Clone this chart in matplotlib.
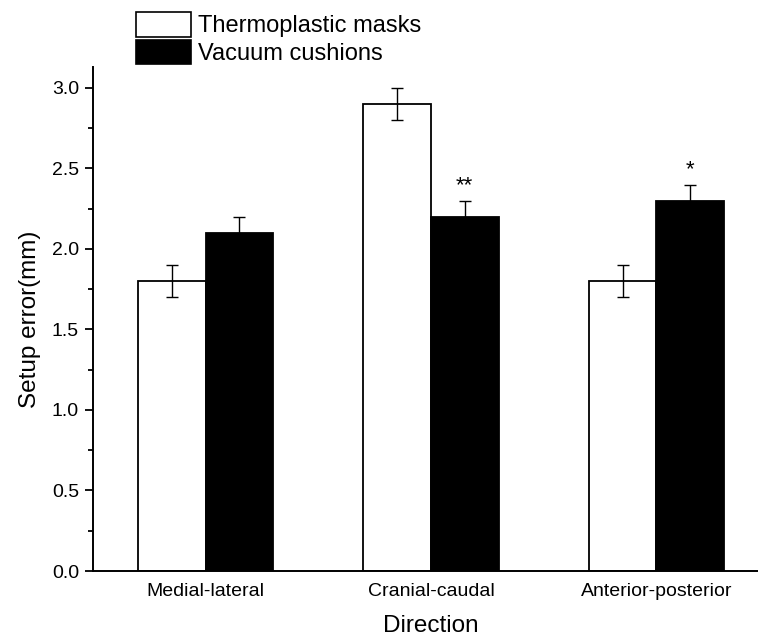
import numpy as np
import matplotlib.pyplot as plt
from matplotlib.patches import Patch
from matplotlib.ticker import MultipleLocator

plt.rcParams['font.family'] = ['Liberation Sans', 'DejaVu Sans']

directions = ["Medial-lateral", "Cranial-caudal", "Anterior-posterior"]
thermo = [1.8, 2.9, 1.8]
thermo_err = [0.1, 0.1, 0.1]
vacuum = [2.1, 2.2, 2.3]
vacuum_err = [0.1, 0.1, 0.1]
stars = ["", "**", "*"]

fig = plt.figure(figsize=(7.58, 6.37), dpi=100)
ax = fig.add_axes([93/758, 1 - 571/637, (769 - 93)/758, (571 - 67)/637])

x = np.arange(len(directions))
w = 0.3
ax.bar(x - w/2, thermo, w, color="white", edgecolor="black", linewidth=1.3,
       yerr=thermo_err, capsize=4, error_kw=dict(elinewidth=1, capthick=1, ecolor="black"))
ax.bar(x + w/2, vacuum, w, color="black", edgecolor="black", linewidth=1.3,
       yerr=vacuum_err, capsize=4, error_kw=dict(elinewidth=1, capthick=1, ecolor="black"))

for i in range(len(x)):
    if stars[i]:
        ax.text(x[i] + w/2, vacuum[i] + vacuum_err[i] + 0.03, stars[i],
                ha="center", va="bottom", fontsize=16)

ax.set_xlim(-0.5, 2.5)
ax.set_ylim(0, 3.13)
ax.yaxis.set_major_locator(MultipleLocator(0.5))
ax.yaxis.set_minor_locator(MultipleLocator(0.25))
ax.set_xticks(x)
ax.set_xticklabels(directions, fontsize=14)
ax.tick_params(axis="x", length=0, pad=9)
ax.tick_params(axis="y", which="major", length=6, width=1.3, labelsize=14, direction="out", pad=4)
ax.tick_params(axis="y", which="minor", length=3.5, width=1.3, direction="out")
ax.spines["top"].set_visible(False)
ax.spines["right"].set_visible(False)
ax.spines["left"].set_linewidth(1.4)
ax.spines["bottom"].set_linewidth(1.4)

ax.set_ylabel("Setup error(mm)", fontsize=17.5, labelpad=8)
ax.set_xlabel("Direction", fontsize=17.5, labelpad=10.5)

handles = [Patch(facecolor="white", edgecolor="black", linewidth=1.2),
           Patch(facecolor="black", edgecolor="black", linewidth=1.2)]
fig.legend(handles, ["Thermoplastic masks", "Vacuum cushions"],
           loc="upper left", bbox_to_anchor=(134/758, 1 - 10/637),
           frameon=False, fontsize=17, handlelength=2.3, handleheight=1.2,
           handletextpad=0.3, labelspacing=0.12, borderaxespad=0, borderpad=0.1)

fig.savefig("out.png", dpi=100)
